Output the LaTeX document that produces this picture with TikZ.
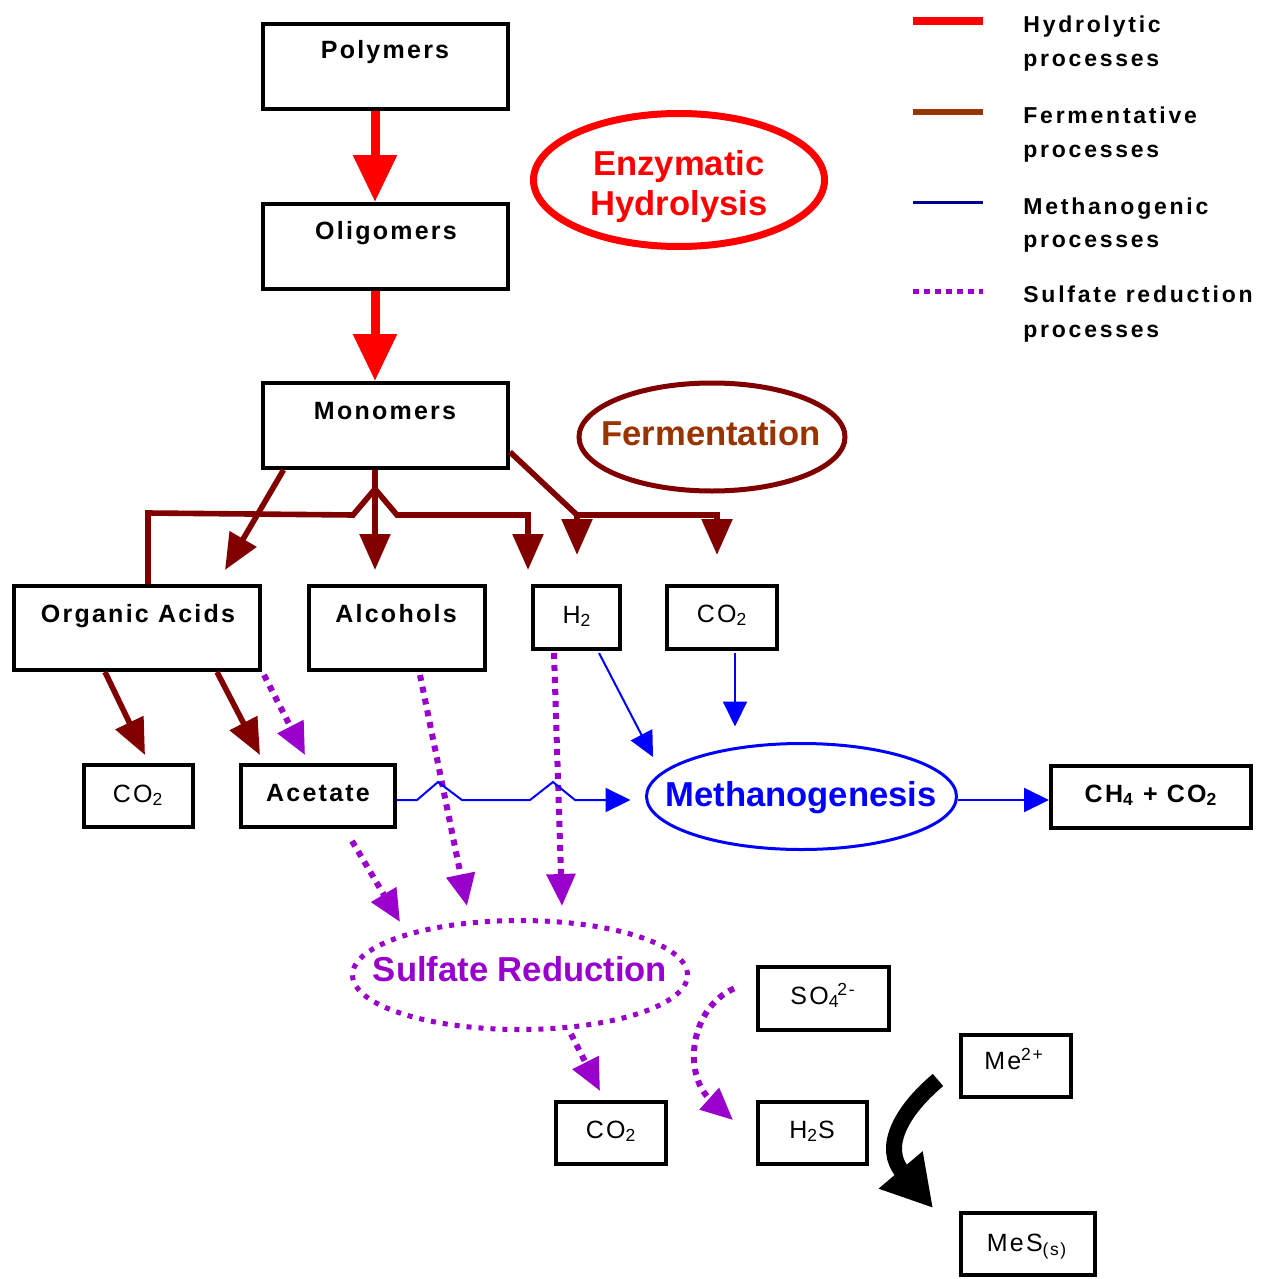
\documentclass[tikz,border=0pt]{standalone}
\usepackage{fontspec}
\setmainfont{Liberation Sans}
\newfontfamily\bxfont[LetterSpace=9]{Liberation Sans}
\newfontfamily\lgfont[LetterSpace=12]{Liberation Sans}
\usetikzlibrary{arrows.meta,calc,shapes.geometric}
\definecolor{hred}{HTML}{FF0000}
\definecolor{dred}{HTML}{800000}
\definecolor{fbrown}{HTML}{993300}
\definecolor{mblue}{HTML}{0000FF}
\definecolor{lblue}{HTML}{000099}
\definecolor{purp}{HTML}{9900CC}
\tikzset{
  box/.style={draw=black, line width=2pt, rectangle, inner sep=0pt},
  wt/.style={font=\bxfont\bfseries\fontsize{12.5pt}{15pt}\selectfont, inner sep=0pt, anchor=base},
  ct/.style={font=\bxfont\fontsize{12.5pt}{15pt}\selectfont, inner sep=0pt, anchor=base},
  et/.style={font=\bfseries\fontsize{17.3pt}{20pt}\selectfont, inner sep=0pt, anchor=base},
  lt/.style={font=\lgfont\bfseries\fontsize{11.5pt}{13pt}\selectfont, inner sep=0pt, anchor=base west},
  redarr/.style={draw=hred, line width=4.5pt, -{Triangle[width=21pt,length=23.5pt]}},
  brarr/.style={draw=dred, line width=2.8pt, -{Triangle[width=15pt,length=18pt]}},
  blarr/.style={draw=mblue, line width=1pt, -{Triangle[width=12pt,length=12.5pt]}},
  purarr/.style={draw=purp, line width=3pt, dash pattern=on 3pt off 3pt, -{Triangle[width=14pt,length=16pt]}},
  blkarr/.style={draw=black, line width=8pt, -{Triangle[width=27pt,length=25pt]}},
}
\begin{document}
\begin{tikzpicture}[x=0.5pt,y=-0.5pt]
\useasboundingbox (0,0) rectangle (1270,1279);

% ---- boxes ----
\node[box, minimum width=122.5pt, minimum height=42.5pt] (poly) at (385.5,66.5) {};
\node[box, minimum width=122.5pt, minimum height=42.5pt] (olig) at (385.5,246.5) {};
\node[box, minimum width=122.5pt, minimum height=42.5pt] (mono) at (385.5,425.5) {};
\node[box, minimum width=123pt, minimum height=42pt] (orgacid) at (137,628) {};
\node[box, minimum width=88pt, minimum height=42pt] (alcohol) at (397,628) {};
\node[box, minimum width=43.5pt, minimum height=31.5pt] (h2) at (576.5,617.5) {};
\node[box, minimum width=55pt, minimum height=31.5pt] (co2a) at (722,617.5) {};
\node[box, minimum width=54.5pt, minimum height=31pt] (co2b) at (138.5,796) {};
\node[box, minimum width=77pt, minimum height=31pt] (acetate) at (318,796) {};
\node[box, minimum width=100pt, minimum height=31pt] (ch4) at (1151,797) {};
\node[box, minimum width=65.5pt, minimum height=31.5pt] (so4) at (823.5,998.5) {};
\node[box, minimum width=55pt, minimum height=31pt] (co2c) at (611,1133) {};
\node[box, minimum width=54.5pt, minimum height=31pt] (h2s) at (812.5,1133) {};
\node[box, minimum width=55pt, minimum height=31pt] (me) at (1016,1066) {};
\node[box, minimum width=67pt, minimum height=31pt] (mes) at (1028,1244) {};

% ---- box texts ----
\node[wt] (polyT) at (385,59) {Polymers};
\node[wt] (oligT) at (386,239) {Oligomers};
\node[wt] (monoT) at (385,419) {Monomers};
\node[wt] (orgacidT) at (138,622) {Organic Acids};
\node[wt] (alcoholT) at (396,622) {Alcohols};
\node[ct] (h2T) at (577,623) {H\textsubscript{2}};
\node[ct] (co2aT) at (722,622) {CO\textsubscript{2}};
\node[ct] (co2bT) at (138,802) {CO\textsubscript{2}};
\node[wt] (acetateT) at (318,801) {Acetate};
\node[wt] (ch4T) at (1151,802) {CH\textsubscript{4} + CO\textsubscript{2}};
\node[ct] (so4T) at (823,1004) {SO\textsubscript{4}\kern-1pt\textsuperscript{2-}};
\node[ct] (co2cT) at (611,1138) {CO\textsubscript{2}};
\node[ct] (h2sT) at (812,1138) {H\textsubscript{2}S};
\node[ct] (meT) at (1014,1069) {Me\textsuperscript{2+}};
\node[ct] (mesT) at (1027,1251) {MeS\textsubscript{(s)}};

% ---- process ellipses ----
\node[ellipse, draw=hred, line width=3.5pt, minimum width=145.5pt, minimum height=66.5pt, inner sep=0pt] (enz) at (679,180) {};
\node[et, text=hred] (enzT1) at (679,175) {Enzymatic};
\node[et, text=hred] (enzT2) at (679,215) {Hydrolysis};
\node[ellipse, draw=dred, line width=2.5pt, minimum width=133pt, minimum height=54pt, inner sep=0pt] (ferm) at (712,437) {};
\node[et, text=fbrown] (fermT) at (711,445) {Fermentation};
\node[ellipse, draw=mblue, line width=1.5pt, minimum width=155pt, minimum height=53pt, inner sep=0pt] (meth) at (801.5,796.5) {};
\node[et, text=mblue] (methT) at (801,806) {Methanogenesis};
\node[ellipse, draw=purp, line width=2.5pt, dash pattern=on 2.5pt off 3.5pt, minimum width=167.5pt, minimum height=54.5pt, inner sep=0pt] (sulf) at (520,975) {};
\node[et, text=purp] (sulfT) at (520,981) {Sulfate Reduction};

% ---- hydrolysis ----
\draw[redarr] ($(poly.south)+(-10.5,0)$) -- ($(olig.north)+(-10.5,0)$);
\draw[redarr] ($(olig.south)+(-10.5,0)$) -- ($(mono.north)+(-10.5,0)$);

% ---- fermentation ----
\draw[brarr] ($(mono.south)+(-102,0)$) -- ($(orgacid.north)+(88,-14)$);
\draw[brarr] ($(mono.south)+(-10.5,0)$) -- ($(alcohol.north)+(-22,-14)$);
\draw[brarr] ($(orgacid.north)+(11,0)$) -- ++(0,-71) -- (353,515) -- (375,489) -- (397,515) -| ($(h2.north)+(-48.5,-14)$);
\coordinate (jn) at (577,515);
\draw[brarr] ($(mono.south east)+(0,-18)$) -- (jn) -| ($(co2a.north)+(-5,-29)$);
\draw[brarr] (jn) -- ($(h2.north)+(0.5,-29)$);
\draw[brarr] ($(orgacid.south)+(-32,0)$) -- ($(co2b.north)+(6.5,-8)$);
\draw[brarr] ($(orgacid.south)+(80,0)$) -- ($(acetate.north)+(-58,-8)$);

% ---- sulfate reduction ----
\draw[purarr] ($(orgacid.south east)+(2,3)$) -- ($(acetate.north)+(-13,-8)$);
\draw[purarr] ($(alcohol.south)+(23,3)$) -- ($(sulf.north)+(-53,-12)$);
\draw[purarr] ($(h2.south)+(-22.5,2)$) -- ($(sulf.north)+(42,-12)$);
\draw[purarr] ($(acetate.south)+(34,12)$) -- ($(sulf.center)+(-120,-53)$);
\draw[purarr] ($(sulf.south)+(51,2)$) -- ($(co2c.north)+(-11,-9)$);
\draw[purarr] ($(so4.west)+(-22,-10)$) .. controls +(-45,20) and +(-50,-45) .. ($(h2s.west)+(-23,-13)$);

% ---- methanogenesis ----
\draw[blarr] ($(h2.south)+(22.5,2)$) -- ($(meth.center)+(-148.5,-39.5)$);
\draw[blarr] ($(co2a.south)+(13,2)$) -- ($(meth.north)+(-66.5,-15.5)$);
\draw[blarr] ($(acetate.east)+(0,4)$) -- (417,800) -- (438,782) -- (462,800) -- (530,800) -- (553,782) -- (575,800) -- ($(meth.west)+(-14.5,3.5)$);
\draw[blarr] ($(meth.east)+(0,3.5)$) -- ($(ch4.west)+(0,3)$);

% ---- precipitation ----
\draw[blkarr] ($(me.west)+(-21,14)$) .. controls +(-38,32) and +(-51,-60) .. ($(mes.north west)+(-26,-3)$);

% ---- legend ----
\coordinate (l1a) at (913,21); \coordinate (l1b) at (983,21);
\coordinate (l2a) at (913,112); \coordinate (l2b) at (983,112);
\coordinate (l3a) at (913,202); \coordinate (l3b) at (983,202);
\coordinate (l4a) at (913,291); \coordinate (l4b) at (983,291);
\draw[hred, line width=4pt] (l1a) -- (l1b);
\draw[fbrown, line width=3pt] (l2a) -- (l2b);
\draw[lblue, line width=1.5pt] (l3a) -- (l3b);
\draw[purp, line width=2.5pt, dash pattern=on 3pt off 2.5pt] (l4a) -- (l4b);
\node[lt] (lg1a) at (1023,33) {Hydrolytic};
\node[lt] (lg1b) at (1023,67) {processes};
\node[lt] (lg2a) at (1023,124) {Fermentative};
\node[lt] (lg2b) at (1023,157) {processes};
\node[lt] (lg3a) at (1023,214) {Methanogenic};
\node[lt] (lg3b) at (1023,247) {processes};
\node[lt] (lg4a) at (1023,302) {Sulfate reduction};
\node[lt] (lg4b) at (1023,337) {processes};
\end{tikzpicture}
\end{document}
